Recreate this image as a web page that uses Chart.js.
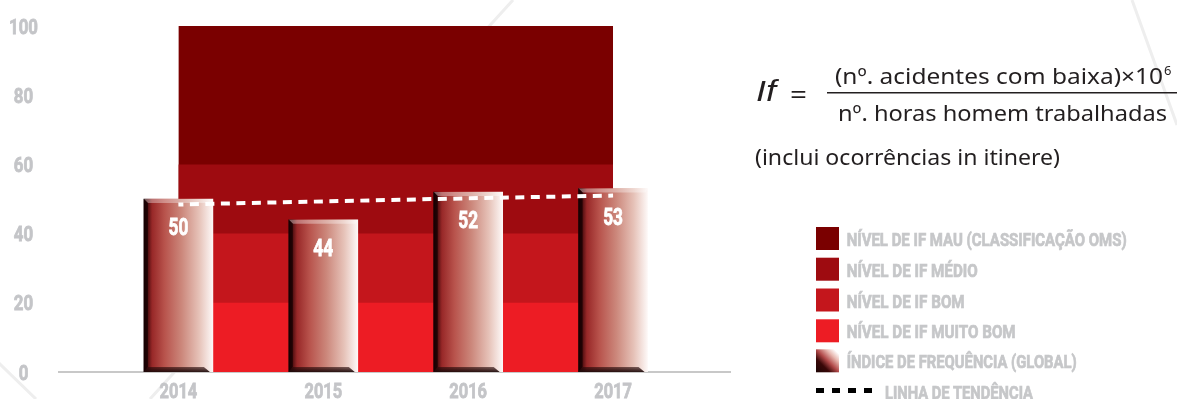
<!DOCTYPE html>
<html lang="pt">
<head>
<meta charset="utf-8">
<title>Índice de frequência</title>
<script src="https://cdn.jsdelivr.net/npm/chart.js@4.4.1/dist/chart.umd.min.js"></script>
<style>
  html, body { margin: 0; padding: 0; background: #fff; }
  #wrap { position: relative; width: 1177px; height: 399px; overflow: hidden; }
  #chart, #side { position: absolute; left: 0; top: 0; }
  #side text { fill: #231f20; font-family: 'Noto Sans', sans-serif; }
  #side .lg { fill: #c6c7c9; stroke: #c6c7c9; stroke-width: 0.7px; font-family: Roboto, sans-serif; font-weight: bold; font-size: 18px; }
</style>
</head>
<body>
<div id="wrap">
  <canvas id="chart" width="1177" height="399"></canvas>

  <svg id="side" width="1177" height="399">
    <defs>
      <linearGradient id="idxSwatch" x1="0" y1="1" x2="1" y2="0">
        <stop offset="0" stop-color="#1c0404"/>
        <stop offset="0.3" stop-color="#3a0808"/>
        <stop offset="0.5" stop-color="#b04848"/>
        <stop offset="0.72" stop-color="#e8b8b0"/>
        <stop offset="0.9" stop-color="#ffffff"/>
      </linearGradient>
    </defs>
    <text x="756" y="101" font-size="29" font-style="italic" style="font-family:'Liberation Sans',sans-serif" textLength="20" lengthAdjust="spacingAndGlyphs">If</text>
    <text x="790" y="104" font-size="26" textLength="17" lengthAdjust="spacingAndGlyphs">=</text>
    <text x="835" y="83.5" font-size="22" textLength="328" lengthAdjust="spacingAndGlyphs">(nº. acidentes com baixa)×10</text>
    <text x="1164" y="75" font-size="13">6</text>
    <line x1="827" y1="92.7" x2="1177" y2="92.7" stroke="#231f20" stroke-width="1.5"/>
    <text x="838" y="121" font-size="22" textLength="329" lengthAdjust="spacingAndGlyphs">nº. horas homem trabalhadas</text>
    <text x="755" y="165" font-size="22" textLength="305" lengthAdjust="spacingAndGlyphs">(inclui ocorrências in itinere)</text>
    <g id="legend"></g>
  </svg>
</div>

<script>
const years = ['2014', '2015', '2016', '2017'];
const frequencyIndex = [50, 44, 52, 53];
const trendLine = [48.4, 49.3, 50.2, 51.0];
const yTicks = [0, 20, 40, 60, 80, 100];

// limites das faixas de classificação do IF
const limitMuitoBom = [20, 20, 20, 20];
const limitBom = [40, 40, 40, 40];
const limitMedio = [60, 60, 60, 60];
const limitMau = [100, 100, 100, 100];

const bandLabels = ['NÍVEL DE IF MAU (CLASSIFICAÇÃO OMS)', 'NÍVEL DE IF MÉDIO', 'NÍVEL DE IF BOM', 'NÍVEL DE IF MUITO BOM'];
const bandColors = ['#7a0000', '#9e0b10', '#c4161c', '#ed1c24'];

const toPoints = arr => arr.map((v, i) => ({ x: i, y: v }));

// cada faixa preenche até a origem; as menores ficam por cima
function band(values, color) {
    return {
        type: 'line',
        data: toPoints(values),
        borderWidth: 0,
        pointRadius: 0,
        tension: 0,
        backgroundColor: color,
        fill: 'origin',
        order: 3
    };
}

function barGradient(ctx) {
    const chart = ctx.chart;
    const xs = chart.scales.x;
    if (!xs || !chart.chartArea || ctx.dataIndex === undefined) return '#b5504a';
    const cx = xs.getPixelForValue(ctx.dataIndex);
    const g = chart.ctx.createLinearGradient(cx - 34.5, 0, cx + 34.5, 0);
    g.addColorStop(0, '#1c0406');
    g.addColorStop(0.05, '#4a0c0e');
    g.addColorStop(0.12, '#982828');
    g.addColorStop(0.3, '#b8534c');
    g.addColorStop(0.55, '#cc887c');
    g.addColorStop(0.8, '#e6c2b8');
    g.addColorStop(1, '#fdf8f7');
    return g;
}

// texto estreito (escala horizontal)
function narrowText(ctx, text, x, y, size, sx, color) {
    ctx.save();
    ctx.translate(x, y);
    ctx.scale(sx, 1);
    ctx.fillStyle = color;
    ctx.strokeStyle = color;
    ctx.lineWidth = 0.8;
    ctx.font = 'bold ' + size + 'px Roboto, sans-serif';
    ctx.textAlign = 'center';
    ctx.textBaseline = 'alphabetic';
    ctx.fillText(text, 0, 0);
    ctx.strokeText(text, 0, 0);
    ctx.restore();
}

// sombras e brilho nas colunas + valores
const barDecor = {
    id: 'barDecor',
    afterDatasetDraw(chart, args) {
        if (args.index !== 4) return;
        const ctx = chart.ctx;
        args.meta.data.forEach((el, i) => {
            const l = el.x - el.width / 2, r = el.x + el.width / 2;
            const t = el.y, b = el.base;
            ctx.save();
            ctx.fillStyle = 'rgba(255,255,255,0.35)';
            ctx.beginPath();
            ctx.moveTo(l, t); ctx.lineTo(r, t); ctx.lineTo(r - 2, t + 4); ctx.lineTo(l + 4, t + 4);
            ctx.closePath(); ctx.fill();
            ctx.fillStyle = 'rgba(20,0,2,0.75)';
            ctx.beginPath();
            ctx.moveTo(l, t); ctx.lineTo(l + 4, t + 4); ctx.lineTo(l + 4, b - 5); ctx.lineTo(l, b);
            ctx.closePath(); ctx.fill();
            const g = ctx.createLinearGradient(0, b - 6, 0, b);
            g.addColorStop(0, 'rgba(40,8,8,0.5)');
            g.addColorStop(1, 'rgba(30,10,10,0.95)');
            ctx.fillStyle = g;
            ctx.beginPath();
            ctx.moveTo(l + 4, b - 5); ctx.lineTo(r - 9, b - 5); ctx.lineTo(r - 3, b); ctx.lineTo(l, b);
            ctx.closePath(); ctx.fill();
            ctx.restore();
            narrowText(ctx, String(frequencyIndex[i]), el.x, t + 36, 24, 0.72, '#ffffff');
        });
    }
};

// rótulos dos eixos
const axisLabels = {
    id: 'axisLabels',
    afterDraw(chart) {
        const ctx = chart.ctx;
        const xs = chart.scales.x, ys = chart.scales.y;
        yTicks.forEach(v => narrowText(ctx, String(v), 23.5, ys.getPixelForValue(v) + 7.5, 20, 0.84, '#c4c5c8'));
        years.forEach((y, i) => narrowText(ctx, y, xs.getPixelForValue(i), 397.5, 20, 0.82, '#c4c5c8'));
    }
};

// linhas diagonais de fundo
const backdrop = {
    id: 'backdrop',
    beforeDraw(chart) {
        const ctx = chart.ctx;
        ctx.save();
        ctx.strokeStyle = '#eeeeee';
        ctx.lineWidth = 3;
        [[513, 0, 150, 399], [-30, 335, 36, 399], [1132, 0, 1177, 125]].forEach(([x1, y1, x2, y2]) => {
            ctx.beginPath(); ctx.moveTo(x1, y1); ctx.lineTo(x2, y2); ctx.stroke();
        });
        ctx.restore();
    }
};

new Chart(document.getElementById('chart'), {
    type: 'bar',
    data: {
        datasets: [
            band(limitMuitoBom, bandColors[3]),
            band(limitBom, bandColors[2]),
            band(limitMedio, bandColors[1]),
            band(limitMau, bandColors[0]),
            {
                type: 'bar',
                data: toPoints(frequencyIndex),
                barThickness: 69,
                backgroundColor: barGradient,
                borderWidth: 0,
                order: 2
            },
            {
                type: 'line',
                data: toPoints(trendLine),
                borderColor: '#ffffff',
                borderWidth: 4,
                borderDash: [9, 6.5],
                borderDashOffset: 4,
                borderCapStyle: 'butt',
                pointRadius: 0,
                fill: false,
                tension: 0,
                order: 1
            }
        ]
    },
    options: {
        responsive: false,
        animation: false,
        layout: { padding: { left: 10, right: 447, top: 26, bottom: 0 } },
        plugins: { legend: { display: false }, tooltip: { enabled: false } },
        scales: {
            x: {
                type: 'linear',
                offset: false,
                min: -0.824,
                max: 3.807,
                grid: { display: false, drawTicks: false },
                border: { display: true, color: '#c8c8c8', width: 2 },
                afterFit: scale => { scale.height = 27; },
                ticks: { display: false }
            },
            y: {
                min: 0,
                max: 100,
                grid: { display: false, drawTicks: false },
                border: { display: false },
                afterFit: scale => { scale.width = 49; },
                ticks: { display: false, stepSize: 20 }
            }
        }
    },
    plugins: [backdrop, barDecor, axisLabels]
});

// legenda (SVG)
const NS = 'http://www.w3.org/2000/svg';
const legend = document.getElementById('legend');
function svgEl(tag, attrs, text) {
    const e = document.createElementNS(NS, tag);
    for (const k in attrs) e.setAttribute(k, attrs[k]);
    if (text) e.textContent = text;
    legend.appendChild(e);
    return e;
}
const legendRows = [
    { label: bandLabels[0], fill: bandColors[0], width: 280 },
    { label: bandLabels[1], fill: bandColors[1], width: 131 },
    { label: bandLabels[2], fill: bandColors[2], width: 118 },
    { label: bandLabels[3], fill: bandColors[3], width: 169 },
    { label: 'ÍNDICE DE FREQUÊNCIA (GLOBAL)', fill: 'url(#idxSwatch)', width: 230 }
];
const baselines = [246, 276.7, 307.5, 338.3, 368.3];
legendRows.forEach((row, i) => {
    svgEl('rect', { x: 816, y: baselines[i] - 19, width: 23, height: 23, fill: row.fill });
    svgEl('text', { x: 846.7, y: baselines[i], class: 'lg', textLength: row.width, lengthAdjust: 'spacingAndGlyphs' }, row.label);
});
[816, 832, 848, 864].forEach(x => svgEl('rect', { x: x, y: 388, width: 8, height: 5, fill: '#000' }));
svgEl('text', { x: 885, y: 398.5, class: 'lg', textLength: 148, lengthAdjust: 'spacingAndGlyphs' }, 'LINHA DE TENDÊNCIA');
</script>
</body>
</html>
